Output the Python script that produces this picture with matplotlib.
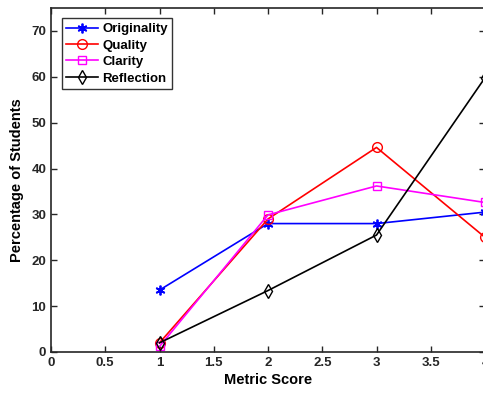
import matplotlib
matplotlib.use("Agg")
import matplotlib.pyplot as plt

# ====== Data ======
scores = [1, 2, 3, 4]
originality = [13.5, 28.0, 28.0, 30.5]
quality = [2.0, 29.0, 44.6, 25.0]
clarity = [1.2, 29.9, 36.2, 32.6]
reflection = [2.0, 13.4, 25.5, 59.8]

xticks = [0, 0.5, 1, 1.5, 2, 2.5, 3, 3.5, 4]
xticklabels = ["0", "0.5", "1", "1.5", "2", "2.5", "3", "3.5", "4"]
yticks = [0, 10, 20, 30, 40, 50, 60, 70]

plt.rcParams["font.family"] = ["Liberation Sans", "DejaVu Sans"]
plt.rcParams["font.weight"] = "bold"

fig = plt.figure(figsize=(4.83, 3.93), dpi=100)
ax = fig.add_axes([51 / 483, 41 / 393, 434 / 483, 344 / 393])

# asterisk marker like MATLAB '*'
ax.plot(scores, originality, color="blue", marker=(6, 2, 0), markersize=7, mew=1.3, lw=1.2, label="Originality")
ax.plot(scores, quality, color="red", marker="o", mfc="none", markersize=7, lw=1.2, label="Quality")
ax.plot(scores, clarity, color="magenta", marker="s", mfc="none", markersize=6, lw=1.2, label="Clarity")
ax.plot(scores, reflection, color="black", marker="d", mfc="none", markersize=7.5, lw=1.2, label="Reflection")

ax.set_xlim(0, 4)
ax.set_ylim(0, 75)
ax.set_xticks(xticks)
ax.set_xticklabels(xticklabels)
ax.set_yticks(yticks)
ax.tick_params(direction="in", top=True, right=True, labelsize=9.5, length=4, width=1, colors="#262626")
for s in ax.spines.values():
    s.set_linewidth(1.2)
    s.set_color("#262626")

ax.set_xlabel("Metric Score", fontsize=10.5, fontweight="bold", labelpad=3)
ax.set_ylabel("Percentage of Students", fontsize=10.5, fontweight="bold", labelpad=5)

leg = ax.legend(loc="upper left", bbox_to_anchor=(0.025, 0.97), fontsize=9.5, frameon=True,
                fancybox=False, edgecolor="black", borderpad=0.35, labelspacing=0.32,
                handlelength=2.4, handletextpad=0.3, borderaxespad=0)
leg.get_frame().set_linewidth(1.0)

fig.savefig("out.png", dpi=100)
